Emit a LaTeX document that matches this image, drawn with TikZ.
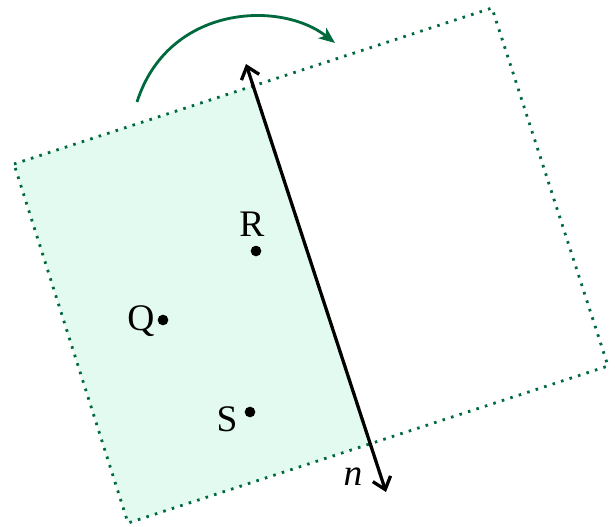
\documentclass[tikz,border=0pt]{standalone}
\usepackage{fontspec}
\setmainfont{Liberation Serif}
\usepackage{xcolor}
\definecolor{planegreen}{RGB}{0,105,62}
\definecolor{planefill}{RGB}{226,250,239}
\usepackage{tikz}
\usetikzlibrary{arrows.meta, positioning}

\begin{document}
\begin{tikzpicture}[
        x=0.3mm, y=-0.3mm,
        plane/.style={draw=planegreen, line width=2.4pt, dash pattern=on 2.2pt off 5.4pt, line join=miter},
        halfplane/.style={fill=planefill},
        normal/.style={{Straight Barb[length=3.4mm,width=5.6mm]}-{Straight Barb[length=3.4mm,width=5.6mm]}, line width=2.8pt, black},
        turn/.style={-{Stealth[length=4.8mm,width=3.9mm,inset=1.2mm]}, line width=2.4pt, planegreen},
        pt/.style={circle, fill=black, inner sep=0pt, minimum size=3.2mm},
        lbl/.style={font=\fontsize{32}{38}\selectfont, inner sep=0pt}
    ]
        \useasboundingbox (0,0) rectangle (615,527);

        % corners of the plane and where n cuts it
        \coordinate (tl) at (14,164);
        \coordinate (tr) at (492,8);
        \coordinate (br) at (608,366);
        \coordinate (bl) at (128,523);
        \coordinate (cuttop) at (253.2,85.9);
        \coordinate (cutbot) at (370.2,443.8);

        \fill[halfplane] (tl) -- (cuttop) -- (cutbot) -- (bl) -- cycle;
        \draw[plane] (tl) -- (tr) -- (br) -- (bl) -- cycle;

        % the line n
        \coordinate (ntop) at (246,64);
        \coordinate (nbot) at (386,492);
        \draw[normal] (ntop) -- (nbot);
        \node[lbl] (nlabel) at (353,477) {\textit{n}};

        % points
        \node[pt] (R) at (256,251) {};
        \node[pt] (Q) at (163,320) {};
        \node[pt] (S) at (250,412) {};
        \node[lbl] (Rlabel) at (252,224) {R};
        \node[lbl] (Qlabel) at (141,321) {Q};
        \node[lbl] (Slabel) at (227,419) {S};

        % turning arrow
        \coordinate (turnstart) at (137,102);
        \coordinate (turnend) at (335,43);
        \draw[turn] (turnstart) .. controls (168,5) and (280,0) .. (turnend);
    \end{tikzpicture}
\end{document}
